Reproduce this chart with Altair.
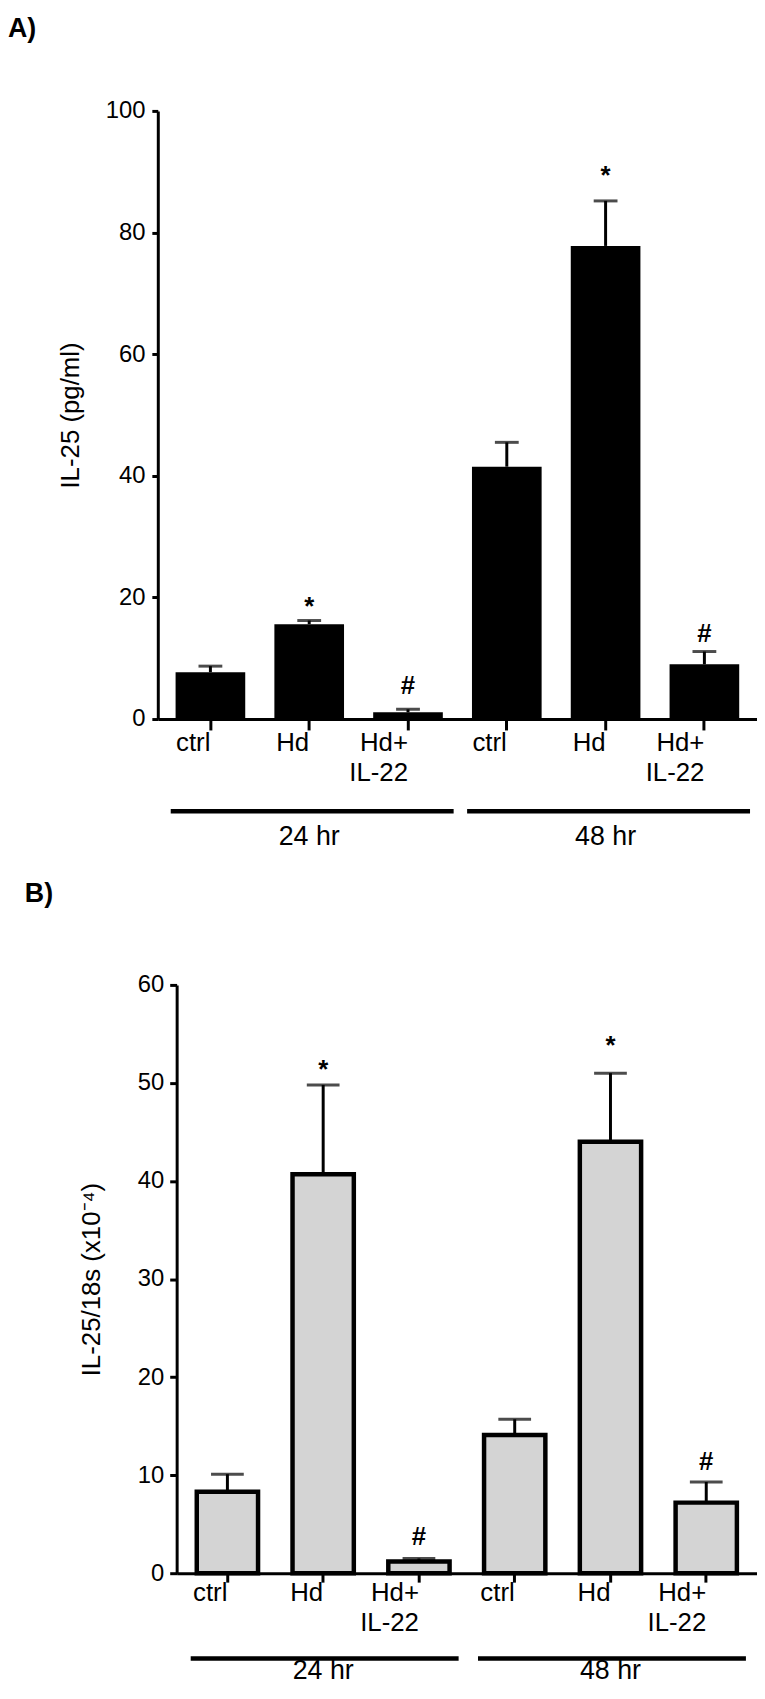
import altair as alt
import pandas as pd

FONT = "Liberation Sans"

# categories (group|label, "~" splits a label over two lines)
keys = ["24|ctrl", "24|Hd", "24|Hd+~IL-22", "48|ctrl", "48|Hd", "48|Hd+~IL-22"]
group_names = ["24 hr", "48 hr"]
group_first = ["24|ctrl", "48|ctrl"]
group_mid = ["24|Hd", "48|Hd"]
group_last = ["24|Hd+~IL-22", "48|Hd+~IL-22"]

# Panel A: IL-25 (pg/ml)
a_mean = [7.7, 15.6, 1.1, 41.5, 77.8, 9.0]
a_upper = [8.7, 16.2, 1.6, 45.5, 85.2, 11.1]
a_sig = ["", "*", "#", "", "*", "#"]
a_sig_y = [0, 19.6, 5.6, 0, 90.5, 14.2]

# Panel B: IL-25/18s (x10^-4)
b_mean = [8.3, 40.7, 1.2, 14.1, 44.0, 7.2]
b_upper = [10.1, 49.8, 1.5, 15.7, 51.0, 9.3]
b_sig = ["", "*", "#", "", "*", "#"]
b_sig_y = [0, 52.0, 3.8, 0, 54.5, 11.4]


def panel(mean, upper, sig, sig_y, ymax, ystep, ytitle, label, fill, bar_stroke,
          pad_in, pad_out, cap, width, height, x_start, title_pad, y_label_pad,
          y_tick, x_label_pad, x_tick, line_dy, text_dy, rule_off, label_dx,
          label_dy):
    df = pd.DataFrame({"key": keys, "mean": mean, "upper": upper,
                       "sig": sig, "sig_y": sig_y})
    sc = dict(domain=keys, paddingInner=pad_in, paddingOuter=pad_out)
    if x_start:
        sc["rangeMin"] = x_start
    xscale = alt.Scale(**sc)
    xaxis = alt.Axis(title=None, labelAngle=0,
                     labelExpr="split(slice(datum.label, 3), '~')",
                     labelFont=FONT, labelFontSize=26, labelLineHeight=30,
                     labelPadding=x_label_pad, labelColor="black",
                     tickSize=x_tick, tickWidth=3, tickColor="black",
                     domainWidth=3, domainColor="black")
    yscale = alt.Scale(domain=[0, ymax], nice=False)
    yaxis = alt.Axis(title=ytitle, values=list(range(0, ymax + 1, ystep)),
                     grid=False, labelFont=FONT, labelFontSize=24,
                     labelColor="black", labelPadding=y_label_pad,
                     tickSize=y_tick, tickWidth=3, tickColor="black",
                     domainWidth=3, domainColor="black", offset=-x_start,
                     titleFont=FONT, titleFontSize=26, titleFontWeight="normal",
                     titleColor="black", titlePadding=title_pad)
    base = alt.Chart(df)
    xk = alt.X("key:N", sort=keys, scale=xscale, axis=xaxis)

    bar_kwargs = dict(color=fill)
    if bar_stroke:
        bar_kwargs.update(stroke="black", strokeWidth=4.5)
    bars = base.mark_bar(**bar_kwargs).encode(
        x=xk, y=alt.Y("mean:Q", scale=yscale, axis=yaxis))
    whisk = base.mark_rule(strokeWidth=3, color="black").encode(
        x="key:N", y="mean:Q", y2="upper:Q")
    caps = base.mark_tick(thickness=3, size=cap, color="black",
                          orient="horizontal").encode(x="key:N", y="upper:Q")
    star = base.transform_filter("datum.sig == '*'").mark_text(
        font=FONT, fontSize=26, fontWeight="bold", baseline="alphabetic",
        dy=15, color="black").encode(x="key:N", y="sig_y:Q", text="sig:N")
    hashm = base.transform_filter("datum.sig == '#'").mark_text(
        font=FONT, fontSize=26, fontWeight="bold", baseline="alphabetic",
        dy=9, color="black").encode(x="key:N", y="sig_y:Q", text="sig:N")

    gdf = pd.DataFrame({"first": group_first, "last": group_last,
                        "mid": group_mid, "name": group_names})
    grule = alt.Chart(gdf).mark_rule(
        strokeWidth=4.5, color="black", xOffset=rule_off[0],
        x2Offset=rule_off[1]).encode(
        x="first:N", x2="last:N", y=alt.value(height + line_dy))
    gtext = alt.Chart(gdf).mark_text(
        font=FONT, fontSize=27, baseline="middle", color="black").encode(
        x="mid:N", y=alt.value(height + text_dy), text="name:N")

    ldf = pd.DataFrame({"t": [label]})
    ltext = alt.Chart(ldf).mark_text(
        font=FONT, fontSize=27, fontWeight="bold", align="left",
        baseline="top", color="black").encode(
        x=alt.value(label_dx), y=alt.value(label_dy), text="t:N")
    layers = [whisk, caps, bars, star, hashm, grule, gtext, ltext]
    return alt.layer(*layers).properties(width=width, height=height)


# page layout: plot A at x 159..763, y 104..717 ; plot B axis at x 178, y 985..1578
panel_a = panel(a_mean, a_upper, a_sig, a_sig_y, 100, 20, "IL-25 (pg/ml)", "A)",
                "black", False, 0.295, 0.18, 24, 604, 613, 0, 22, 7, 6,
                13, 11, 93, 119, (-40, 46), -151, -96)
panel_b = panel(b_mean, b_upper, b_sig, b_sig_y, 60, 10, "IL-25/18s (x10⁻⁴)", "B)",
                "#d4d4d4", True, 0.36, 0.21, 33, 604, 593, 19, 33, 6, 7,
                11, 9, 86, 99, (-37, 40), -134, -105)

chart = alt.vconcat(panel_a, panel_b, spacing=268, bounds="flush").properties(
    padding={"left": 0, "top": 0, "right": 0, "bottom": 0},
    background="white"
).configure_view(stroke=None)

chart.save("out.html", embed_options={"renderer": "svg", "actions": False})
